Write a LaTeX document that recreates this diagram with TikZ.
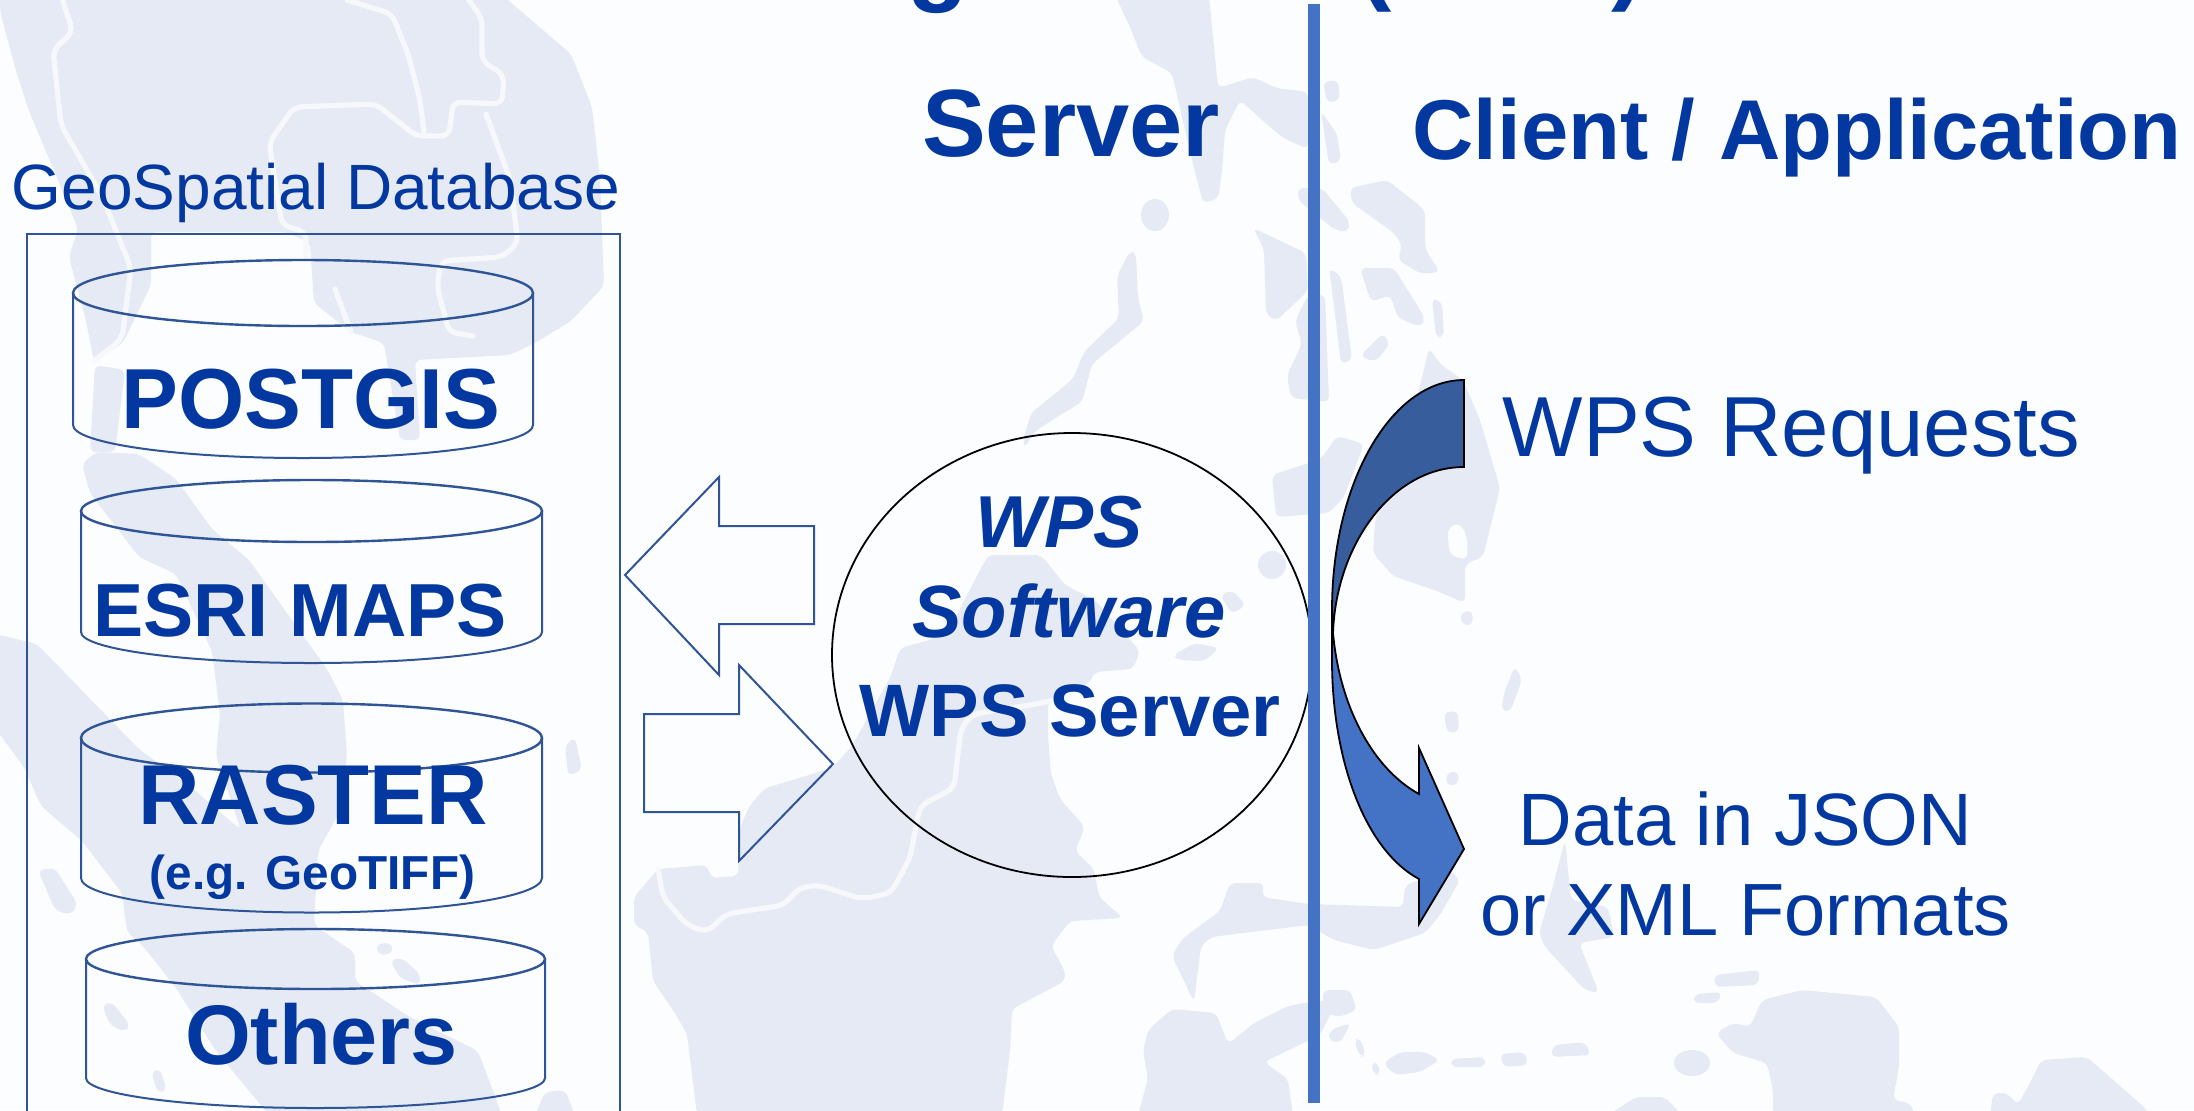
\documentclass[tikz,border=0pt]{standalone}
\usepackage{fontspec}
\setmainfont{Liberation Sans}
\definecolor{bgc}{HTML}{FCFDFE}
\definecolor{landc}{HTML}{E5EAF4}
\definecolor{coastc}{HTML}{F6F8FB}
\definecolor{inkc}{HTML}{0238A0}
\definecolor{linec}{HTML}{2F5597}
\definecolor{barc}{HTML}{4472C4}
\definecolor{darkc}{HTML}{385D9C}
\newcommand{\fsz}[1]{\fontsize{#1}{#1}\selectfont}
\tikzset{
  land/.style={fill=landc,draw=none,rounded corners=3pt},
  coast/.style={draw=coastc,line width=2.6pt,rounded corners=4pt,line cap=round},
  hole/.style={fill=bgc,draw=none,rounded corners=3pt},
  lbl/.style={inner sep=0pt,outer sep=0pt,anchor=base,text=inkc},
  blue/.style={line width=1pt,draw=linec},
  cyltop/.style={line width=1.2pt,draw=linec},
  blk/.style={line width=0.9pt,draw=black}
}
\begin{document}
\begin{tikzpicture}[x=0.5pt,y=-0.5pt]
\useasboundingbox (0,0) rectangle (2194,1110);
\fill[bgc] (0,0) rectangle (2194,1110);
% --- map background ---
\fill[land] (0,-5)--(502,-5)--(571,54)--(592,107)--(600,179)--(604,286)--(571,321)--(535,343)--(510,355)--(415,360)--(420,440)--(400,440)--(384,343)--(351,332)--(314,303)--(310,243)--(286,232)--(151,232)--(151,285)--(123,343)--(94,361)--(86,321)--(69,257)--(78,229)--(53,168)--(29,111)--(16,71)--(0,11)--cycle;
\draw[coast] (61,-5)--(73,32)--(53,50)--(61,125)--(102,196)--(131,268)--(122,339)--(94,361);
\draw[coast] (347,0)--(392,14)--(408,54)--(420,100)--(424,132);
\draw[coast] (465,-5)--(482,18)--(482,61)--(504,75)--(502,104)--(453,102)--(449,136)--(416,136)--(376,104)--(294,107)--(269,143)--(282,225)--(306,232)--(306,257);
\draw[coast] (486,114)--(510,179)--(518,243)--(502,257)--(441,261)--(437,286)--(449,332)--(473,336);
\draw[coast] (335,289)--(351,332);
\fill[land] (95,365)--(125,370)--(115,452)--(90,452)--cycle;
\fill[land] (82,464)--(96,452)--(139,454)--(176,479)--(212,529)--(249,560)--(327,669)--(343,700)--(347,756)--(339,813)--(318,851)--(314,925)--(355,953)--(355,981)--(408,1016)--(478,1051)--(502,1115)--(269,1115)--(216,1051)--(176,988)--(143,946)--(127,932)--(122,893)--(82,841)--(41,806)--(24,767)--(-5,728)--(-5,634)--(37,644)--(98,707)--(139,749)--(192,788)--(241,830)--(216,756)--(220,714)--(212,651)--(176,574)--(139,557)--(90,493)--cycle;
\fill[land] (38,870)--(55,868)--(78,905)--(70,915)--(55,910)--cycle;
\fill[land] (102,1005)--(112,1002)--(130,1025)--(125,1032)--(110,1025)--cycle;
\fill[land] (151,1072)--(160,1069)--(167,1090)--(158,1093)--cycle;
\fill[land] (565,745)--(575,737)--(582,770)--(568,776)--cycle;
\fill[land] (390,960)--(402,958)--(420,974)--(420,985)--(400,978)--cycle;
\fill[land] (375,945)--(390,942)--(394,952)--(380,956)--cycle;
\fill[land] (535,1115)--(545,1092)--(565,1090)--(575,1115)--cycle;
% centre island
\fill[land] (988,555)--(1041,555)--(1065,585)--(1095,600)--(1140,651)--(1133,669)--(1094,672)--(1090,683)--(1048,700)--(1048,735)--(1051,774)--(1060,799)--(1085,827)--(1075,851)--(1094,869)--(1099,897)--(1123,918)--(1070,921)--(1051,946)--(1065,971)--(1065,981)--(1012,1009)--(1010,1051)--(1002,1115)--(697,1115)--(687,1034)--(675,1013)--(653,981)--(648,932)--(634,925)--(634,897)--(658,869)--(707,865)--(711,878)--(738,876)--(740,827)--(750,805)--(765,788)--(803,777)--(833,767)--(852,746)--(891,676)--(900,648)--(930,640)--(949,630)--(978,574)--cycle;
\draw[coast] (658,869)--(663,897)--(687,925)--(707,932)--(726,914)--(784,905)--(799,888)--(818,885)--(862,899)--(891,893)--(910,858)--(920,806)--(954,788)--(961,728)--(973,714)--(1036,704)--(1055,700);
% east of the island
\fill[land] (1230,883)--(1264,883)--(1262,897)--(1308,904)--(1403,907)--(1405,885)--(1450,870)--(1460,880)--(1440,915)--(1425,933)--(1374,950)--(1334,940)--(1308,925)--(1211,937)--(1201,946)--(1194,1002)--(1172,956)--(1182,939)--(1220,911)--cycle;
\fill[land] (1143,1051)--(1148,1030)--(1172,1009)--(1216,1013)--(1228,1044)--(1254,1023)--(1288,1006)--(1320,1000)--(1335,1005)--(1320,1035)--(1264,1062)--(1288,1079)--(1293,1115)--(1138,1115)--(1148,1079)--cycle;
\fill[land] (1323,990)--(1350,990)--(1357,1010)--(1340,1017)--(1323,1012)--cycle;
\fill[land] (1330,1030)--(1351,1023)--(1340,1043)--(1328,1040)--cycle;
\fill[land] (1354,1040)--(1360,1038)--(1366,1055)--(1360,1057)--cycle;
\fill[land] (1371,1063)--(1378,1062)--(1380,1075)--(1374,1075)--cycle;
\fill[land] (1383,1063)--(1400,1052)--(1425,1052)--(1440,1060)--(1420,1072)--(1395,1075)--cycle;
\fill[land] (1451,1059)--(1485,1057)--(1485,1067)--(1451,1067)--cycle;
\fill[land] (1500,1054)--(1525,1052)--(1528,1065)--(1503,1067)--cycle;
\fill[land] (1553,1045)--(1585,1042)--(1591,1055)--(1551,1057)--cycle;
\fill[land] (1565,840)--(1571,900)--(1608,907)--(1614,937)--(1579,943)--(1599,993)--(1585,990)--(1545,947)--(1539,933)--(1551,893)--cycle;
\fill[land] (1750,1027)--(1762,1000)--(1802,990)--(1876,997)--(1899,1027)--(1899,1067)--(1893,1100)--(1910,1103)--(1915,1115)--(1773,1115)--(1773,1090)--(1767,1063)--(1733,1053)--(1716,1033)--(1733,1023)--cycle;
\fill[land] (1608,1115)--(1636,1097)--(1665,1097)--(1682,1115)--cycle;
\fill[land] (1990,1115)--(1993,1093)--(2007,1093)--(2018,1105)--(2033,1077)--(2041,1060)--(2087,1057)--(2144,1107)--(2150,1115)--cycle;
\fill[land] (1714,975)--(1760,970)--(1758,985)--(1715,987)--cycle;
\fill[land] (1695,994)--(1722,992)--(1718,1003)--(1693,1003)--cycle;
\fill[landc] (1692,1063) ellipse (18 and 13);
% north
\fill[land] (1115,-5)--(1209,-5)--(1218,88)--(1253,77)--(1276,88)--(1308,92)--(1308,149)--(1283,138)--(1262,120)--(1240,100)--(1225,130)--(1222,172)--(1218,199)--(1203,203)--(1195,172)--(1185,130)--(1172,73)--(1142,57)--(1130,27)--cycle;
\fill[landc] (1155,215) ellipse (14 and 16);
\fill[land] (1130,251)--(1136,253)--(1138,298)--(1144,321)--(1092,364)--(1082,402)--(1057,417)--(1034,432)--(1025,448)--(1023,440)--(1031,413)--(1073,379)--(1084,352)--(1119,318)--(1117,276)--cycle;
\fill[land] (1253,228)--(1306,253)--(1308,291)--(1276,321)--(1266,314)--(1264,249)--cycle;
\fill[land] (1298,188)--(1322,188)--(1350,222)--(1348,232)--(1335,230)--(1298,200)--cycle;
\fill[land] (1350,188)--(1387,180)--(1425,210)--(1425,249)--(1440,272)--(1421,274)--(1398,260)--(1402,245)--(1394,233)--(1352,203)--cycle;
\fill[land] (1360,268)--(1394,268)--(1425,318)--(1421,327)--(1398,318)--(1390,295)--(1371,302)--cycle;
\fill[land] (1329,268)--(1341,276)--(1352,360)--(1341,364)--(1333,298)--cycle;
\fill[land] (1295,321)--(1308,295)--(1325,295)--(1329,402)--(1291,398)--(1287,375)--(1302,344)--cycle;
\fill[land] (1360,356)--(1383,333)--(1390,344)--(1375,362)--cycle;
\fill[land] (1432,298)--(1442,302)--(1444,337)--(1436,337)--cycle;
\fill[land] (1323,82)--(1338,80)--(1340,100)--(1327,103)--cycle;
\fill[land] (1321,111)--(1337,134)--(1341,161)--(1329,165)--cycle;
\fill[land] (1429,348)--(1440,364)--(1463,380)--(1480,420)--(1500,488)--(1483,557)--(1465,564)--(1465,603)--(1437,591)--(1393,576)--(1373,553)--(1375,520)--(1400,470)--cycle;
\fill[hole] (1447,530)--(1458,522)--(1467,535)--(1467,560)--(1450,555)--cycle;
\fill[land] (1272,475)--(1321,459)--(1337,436)--(1364,444)--(1344,497)--(1329,513)--(1276,517)--cycle;
\fill[landc] (1272,565) ellipse (14 and 14);
\fill[land] (1220,595)--(1232,590)--(1246,605)--(1232,614)--cycle;
\fill[land] (1173,655)--(1195,643)--(1219,648)--(1205,661)--(1178,660)--cycle;
\fill[land] (1265,562)--(1280,560)--(1283,575)--(1268,578)--cycle;
\fill[land] (1460,613)--(1472,610)--(1473,625)--(1462,625)--cycle;
\fill[land] (1505,690)--(1515,666)--(1522,680)--(1510,712)--(1501,710)--cycle;
\fill[land] (1444,712)--(1458,711)--(1459,732)--(1447,733)--cycle;
\fill[land] (1446,773)--(1458,771)--(1459,784)--(1447,786)--cycle;
% --- title remnants, cut by the page edge ---
\node[lbl,font=\bfseries\fsz{50}] (titleg) at (938,-8) {g};
\node[lbl,font=\bfseries\fsz{50}] (titleo) at (1375,-9) {(};
\node[lbl,font=\bfseries\fsz{50}] (titlec) at (1628,-9) {)};
% --- database ---
\node[lbl,font=\fsz{32}] (dbtitle) at (316,209) {GeoSpatial Database};
\draw[blue] (27,1120)--(27,234)--(620,234)--(620,1120);
\newcommand{\cyl}[5]{% left right cy ry sideend
  \draw[blue] (#1,#3)--(#1,#5) arc[start angle=180,end angle=0,x radius={(#2-#1)/2},y radius=#4]--(#2,#3);
  \draw[cyltop] ({(#1+#2)/2},#3) ellipse ({(#2-#1)/2} and #4);
}
\cyl{73}{533}{293}{33}{425}
\cyl{81}{542}{511}{31}{632}
\cyl{81}{542}{738}{34.5}{878}
\cyl{86}{545}{959}{30}{1078}
\node[lbl,font=\bfseries\fsz{42.6}] (postgis) at (311,428) {POSTGIS};
\node[lbl,font=\bfseries\fsz{37.6}] (esri) at (300,636) {ESRI MAPS};
\node[lbl,font=\bfseries\fsz{42.5}] (raster) at (313,824) {RASTER};
\node[lbl,font=\bfseries\fsz{23.85}] (geotiff) at (312.5,889) {(e.g. GeoTIFF)};
\node[lbl,font=\bfseries\fsz{42.3}] (others) at (321.5,1064) {Others};
% --- block arrows ---
\draw[blue,line join=miter] (625,575)--(719,477)--(719,526)--(814,526)--(814,624)--(719,624)--(719,675)--cycle;
\draw[blue,line join=miter] (833,764)--(739,665)--(739,714)--(644,714)--(644,812)--(739,812)--(739,861)--cycle;
% --- server ---
\draw[blk] (1072,655) ellipse (240 and 222);
\node[lbl,font=\bfseries\itshape\fsz{36.8}] (wps) at (1059,547) {WPS};
\node[lbl,font=\bfseries\itshape\fsz{37.1}] (software) at (1069,637) {Software};
\node[lbl,font=\bfseries\fsz{37.15}] (wpsserver) at (1070,736) {WPS Server};
\node[lbl,font=\bfseries\fsz{47.8}] (server) at (1071,156) {Server};
\fill[barc] (1308,4) rectangle (1320,1103);
\node[lbl,font=\bfseries\fsz{42.45}] (client) at (1797,159) {Client / Application};
% --- curved arrow ---
\draw[blk,fill=barc,line join=miter] (1333,633) .. controls (1340,710) and (1375,770) .. (1419,794)--(1419,748)--(1464,849)--(1419,924)--(1419,879) .. controls (1365,850) and (1332,760) .. (1332,660)--(1332,610)--cycle;
\draw[blk,fill=darkc,line join=miter] (1464,380) .. controls (1391,380) and (1332,483) .. (1332,610)--(1333,633) .. controls (1336,545) and (1392,467) .. (1464,467)--cycle;
\node[lbl,font=\fsz{42.6}] (requests) at (1791.5,456) {WPS Requests};
\node[lbl,font=\fsz{37.1}] (json) at (1745.5,845) {Data in JSON};
\node[lbl,font=\fsz{37}] (xml) at (1745.5,935) {or XML Formats};
\end{tikzpicture}
\end{document}
